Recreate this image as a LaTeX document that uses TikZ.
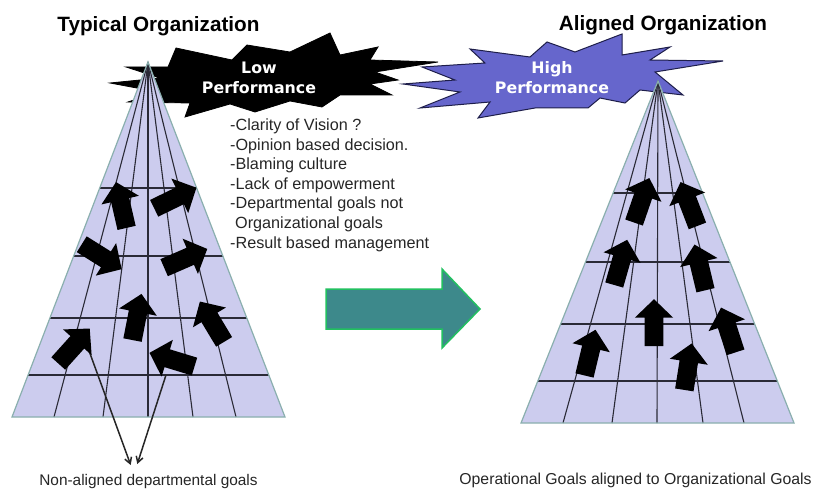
\documentclass[tikz,border=0pt]{standalone}
\usepackage{fontspec}
\setmainfont{Liberation Sans}
\newfontfamily\burstfont{DejaVu Sans}
\usetikzlibrary{arrows.meta}
\definecolor{lav}{HTML}{CCCCEE}
\definecolor{triedge}{HTML}{8AAFAE}
\definecolor{gridc}{HTML}{2A2A36}
\definecolor{hiblue}{HTML}{6666CC}
\definecolor{hiedge}{HTML}{1E1E4A}
\definecolor{tealfill}{HTML}{3D898B}
\definecolor{tealedge}{HTML}{22C060}
\newcommand\blkarrow[3]{%
  \fill[black,shift={(#1,#2)},rotate=#3]
    (-23.5,-9.3) -- (5,-9.3) -- (5,-19.2) -- (23.5,0) -- (5,19.2) -- (5,9.3) -- (-23.5,9.3) -- cycle;}
\tikzset{
  gridline/.style={draw=gridc,line width=1.1pt},
  triborder/.style={draw=triedge,line width=1.2pt},
  title/.style={font=\bfseries\fontsize{20.7}{24}\selectfont,anchor=base,inner sep=0},
  bursttext/.style={font=\burstfont\bfseries\fontsize{15.8}{20}\selectfont,text=white,anchor=base,inner sep=0},
  bullet/.style={font=\fontsize{16.2}{19.5}\selectfont,text=black!85,anchor=base west,inner sep=0},
  caption/.style={font=\fontsize{15.4}{18}\selectfont,text=black!85,anchor=base,inner sep=0},
  thinarrow/.style={draw=black!85,line width=1.5pt,-{Straight Barb[length=6pt,width=7pt]}}
}
\begin{document}
\begin{tikzpicture}[x=1pt,y=-1pt]
\useasboundingbox (0,0) rectangle (816,489);
\fill[white] (0,0) rectangle (816,489);

% titles
\node[title] (tTyp) at (158.5,32) {Typical Organization};
\node[title] (tAli) at (663,31) {Aligned Organization};

% Low performance burst
\path[fill=black,draw=black,line width=0.8pt] (126,67) -- (168,67) -- (176,48) -- (232,60) -- (247,45) -- (290,52)
  -- (330,33) -- (340,55) -- (378,47) -- (370,60) -- (438,62) -- (375,72) -- (398,80) -- (370,84)
  -- (392,95) -- (340,95) -- (322,107) -- (290,101) -- (255,112) -- (230,104) -- (185,117)
  -- (190,103) -- (128,102) -- (158,92) -- (110,83) -- (160,78) -- cycle;
% High performance burst
\path[fill=hiblue,draw=hiedge,line width=1pt] (403,84) -- (455,80) -- (422,67) -- (485,63) -- (470,49) -- (530,57)
  -- (547,42) -- (575,52) -- (622,34) -- (622,55) -- (670,47) -- (650,60) -- (723,61) -- (655,72)
  -- (683,95) -- (640,90) -- (625,103) -- (600,98) -- (588,108) -- (535,108) -- (478,118)
  -- (490,102) -- (420,108) -- (460,92) -- cycle;

% left pyramid
\coordinate (LA) at (148,62);
\coordinate (LL) at (12,417);
\coordinate (LR) at (285,417);
\fill[lav] (LA) -- (LL) -- (LR) -- cycle;
\begin{scope}
  \clip (LA) -- (LL) -- (LR) -- cycle;
  \foreach \yy in {188,256,318,375} \draw[gridline] (0,\yy) -- (300,\yy);
\end{scope}
\foreach \xx in {54,103,148,193,236} \draw[gridline] (LA) -- (\xx,417);
\draw[triborder] (LA) -- (LL) -- (LR) -- cycle;

% right pyramid
\coordinate (RA) at (658,81);
\coordinate (RL) at (521,423);
\coordinate (RR) at (794,423);
\fill[lav] (RA) -- (RL) -- (RR) -- cycle;
\begin{scope}
  \clip (RA) -- (RL) -- (RR) -- cycle;
  \foreach \yy in {193,262,324,381} \draw[gridline] (500,\yy) -- (816,\yy);
\end{scope}
\foreach \xx in {563,612,657,703,744} \draw[gridline] (RA) -- (\xx,423);
\draw[triborder] (RA) -- (RL) -- (RR) -- cycle;

% burst labels
\node[bursttext] (low1) at (259,74) {Low};
\node[bursttext] (low2) at (259,94) {Performance};
\node[bursttext] (hi1) at (552,73.5) {High};
\node[bursttext] (hi2) at (552,93.5) {Performance};

% bullet list
\node[bullet] (b1) at (230,130.7) {-Clarity of Vision ?};
\node[bullet] (b2) at (230,150.3) {-Opinion based decision.};
\node[bullet] (b3) at (230,169.8) {-Blaming culture};
\node[bullet] (b4) at (230,189.4) {-Lack of empowerment};
\node[bullet] (b5) at (230,208.9) {-Departmental goals not};
\node[bullet] (b6) at (235,228.5) {Organizational goals};
\node[bullet] (b7) at (230,248) {-Result based management};

% captions
\node[caption] (capL) at (148.5,485) {Non-aligned departmental goals};
\node[caption,font=\fontsize{15.8}{18}\selectfont] (capR) at (635.5,484) {Operational Goals aligned to Organizational Goals};

% thin pointer arrows
\coordinate (s1) at (88,348);
\coordinate (s2) at (166,375);
\coordinate (e1) at (130.7,465);
\coordinate (e2) at (137.3,464);
\draw[thinarrow] (s1) -- (e1);
\draw[thinarrow] (s2) -- (e2);

% block arrows left
\blkarrow{121.3}{205}{103}
\blkarrow{175.3}{198}{26}
\blkarrow{101.7}{256.7}{-32}
\blkarrow{185.7}{258.3}{23.5}
\blkarrow{137}{317}{79}
\blkarrow{212}{321.7}{121}
\blkarrow{74}{346}{48}
\blkarrow{172}{359.7}{163}
% block arrows right
\blkarrow{641.7}{200.3}{71}
\blkarrow{689}{204}{111}
\blkarrow{620.7}{262.4}{74}
\blkarrow{700}{267.4}{103.5}
\blkarrow{654}{322.7}{90}
\blkarrow{590}{352.6}{76.5}
\blkarrow{728.3}{330}{108}
\blkarrow{688}{366.7}{81}

% big transition arrow
\path[fill=tealfill,draw=tealedge,line width=1.5pt] (326,289) -- (442,289) -- (442,269) -- (480,309)
  -- (442,348) -- (442,329) -- (326,329) -- cycle;
\end{tikzpicture}
\end{document}
